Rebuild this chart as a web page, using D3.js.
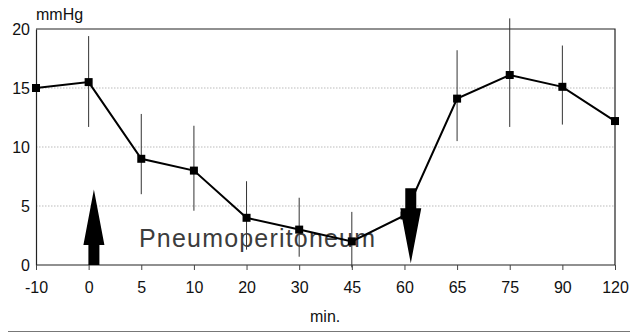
<!DOCTYPE html>
<html>
<head>
<meta charset="utf-8">
<script src="https://cdn.jsdelivr.net/npm/d3@7"></script>
<style>
  html, body { margin: 0; background: #fff; overflow: hidden; }
  svg { display: block; }
  svg text { font-family: "Liberation Sans", Arial, sans-serif; }
</style>
</head>
<body>
<div id="chart"></div>
<script>
// time points (min.) and mean pressure (mmHg)
const times = ['-10', '0', '5', '10', '20', '30', '45', '60', '65', '75', '90', '120'];
const pressure = [15.0, 15.5, 9.0, 8.0, 4.0, 3.0, 2.0, 4.2, 14.1, 16.1, 15.1, 12.2];
const errLow = [null, 11.7, 6.0, 4.6, 1.3, 0.7, -0.2, null, 10.5, 11.7, 11.9, null];
const errHigh = [null, 19.4, 12.8, 11.8, 7.1, 5.7, 4.5, null, 18.2, 20.9, 18.6, null];
const yTicks = [0, 5, 10, 15, 20];
const gridTicks = [5, 10, 15];

// pneumoperitoneum start/end markers (position in category index units)
const insufflation = { at: 1.1, dir: 'up' };
const desufflation = { at: 7.12, dir: 'down' };

const width = 630, height = 333;
const margin = { top: 29, right: 15, bottom: 68, left: 36 };
const innerWidth = width - margin.left - margin.right;
const innerHeight = height - margin.top - margin.bottom;

const svg = d3.select('#chart').append('svg')
  .attr('width', width)
  .attr('height', height);

const g = svg.append('g')
  .attr('transform', `translate(${margin.left},${margin.top})`);

const x = d3.scalePoint().domain(times).range([0, innerWidth]);
const y = d3.scaleLinear().domain([0, 20]).range([innerHeight, 0]);

// index -> pixel, for arrows placed between categories
const xi = d3.scaleLinear().domain([0, times.length - 1]).range([0, innerWidth]);

// dotted grid
g.append('g')
  .selectAll('line')
  .data(gridTicks)
  .join('line')
  .attr('x1', 0)
  .attr('x2', innerWidth)
  .attr('y1', d => y(d))
  .attr('y2', d => y(d))
  .style('stroke', '#aaa')
  .style('stroke-width', 0.8)
  .style('stroke-dasharray', '1.5,1.5');

// frame (top and right)
g.append('path')
  .attr('d', `M0,0H${innerWidth}V${innerHeight}`)
  .style('fill', 'none')
  .style('stroke', '#222')
  .style('stroke-width', 1.2);

// y axis
const yAxis = g.append('g')
  .call(d3.axisLeft(y).tickValues(yTicks).tickSize(0).tickPadding(6));
yAxis.select('.domain').style('stroke', '#222').style('stroke-width', 1.2);
yAxis.selectAll('text')
  .style('font-size', '16px')
  .style('fill', '#111');

// x axis
const xAxis = g.append('g')
  .attr('transform', `translate(0,${innerHeight})`)
  .call(d3.axisBottom(x).tickSize(5).tickPadding(12));
xAxis.select('.domain')
  .attr('d', `M0,0H${innerWidth}`)
  .style('stroke', '#222')
  .style('stroke-width', 1.2);
xAxis.selectAll('.tick line').style('stroke', '#444');
xAxis.selectAll('text')
  .style('font-size', '16px')
  .style('fill', '#111');

// error bars
const bars = times.map((t, i) => ({ t, lo: errLow[i], hi: errHigh[i] }))
  .filter(d => d.lo !== null);
g.append('g')
  .selectAll('line')
  .data(bars)
  .join('line')
  .attr('x1', d => x(d.t))
  .attr('x2', d => x(d.t))
  .attr('y1', d => y(d.lo))
  .attr('y2', d => y(d.hi))
  .style('stroke', '#333')
  .style('stroke-width', 1);

// label
g.append('text')
  .attr('x', 103)
  .attr('y', y(1.5))
  .style('font-size', '25px')
  .style('fill', '#3c3c3c')
  .style('font-weight', 300)
  .attr('textLength', 236)
  .text('Pneumoperitoneum');

// mean line
const pts = times.map((t, i) => ({ t, v: pressure[i] }));
g.append('path')
  .datum(pts)
  .attr('d', d3.line().x(d => x(d.t)).y(d => y(d.v)))
  .style('fill', 'none')
  .style('stroke', '#000')
  .style('stroke-width', 2);

g.append('g')
  .selectAll('rect')
  .data(pts)
  .join('rect')
  .attr('x', d => x(d.t) - 4)
  .attr('y', d => y(d.v) - 4)
  .attr('width', 8)
  .attr('height', 8)
  .style('fill', '#000');

// arrows
function arrow(cx, dir) {
  const shaftW = 5.5, headW = 10.5;
  let d;
  if (dir === 'up') {
    const base = y(0), neck = y(1.7), tip = y(6.4);
    d = `M${cx - shaftW},${base}V${neck}H${cx - headW}L${cx},${tip}L${cx + headW},${neck}H${cx + shaftW}V${base}Z`;
  } else {
    const top = y(6.5), neck = y(4.8), tip = y(0.15);
    d = `M${cx - shaftW},${top}V${neck}H${cx - headW}L${cx},${tip}L${cx + headW},${neck}H${cx + shaftW}V${top}Z`;
  }
  g.append('path').attr('d', d).style('fill', '#000');
}
arrow(xi(insufflation.at), insufflation.dir);
arrow(xi(desufflation.at), desufflation.dir);

// axis titles
svg.append('text')
  .attr('x', 36)
  .attr('y', 20)
  .style('font-size', '16px')
  .style('fill', '#111')
  .text('mmHg');

svg.append('text')
  .attr('x', 310)
  .attr('y', 322)
  .style('font-size', '16px')
  .style('fill', '#111')
  .text('min.');

// rule at bottom
svg.append('line')
  .attr('x1', 8)
  .attr('x2', width)
  .attr('y1', 331.5)
  .attr('y2', 331.5)
  .style('stroke', '#777')
  .style('stroke-width', 1.2);
</script>
</body>
</html>
